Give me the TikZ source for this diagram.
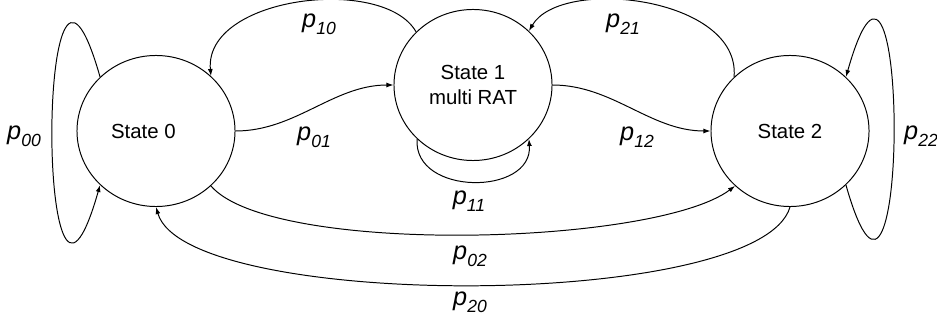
\documentclass[tikz,border=0pt]{standalone}
\usepackage{fontspec}
\setmainfont{Liberation Sans}
\usetikzlibrary{arrows.meta, shapes.geometric}
\newcommand{\plab}[1]{\textit{p}\raisebox{-5pt}{\fontsize{12.5}{13}\selectfont\textit{#1}}}

\begin{document}
\begin{tikzpicture}[x=0.025cm, y=-0.025cm, >={Latex[length=5pt,width=3.5pt]}, line width=0.7pt,
    state/.style={ellipse, draw, minimum width=3.95cm, minimum height=3.775cm, inner sep=0pt,
        align=center, font=\fontsize{14.5}{18}\selectfont},
    prob/.style={inner sep=0pt, font=\fontsize{18}{20}\selectfont}]
    \useasboundingbox (0,0) rectangle (937,320);

    % Zustaende
    \node[state] (s0) at (156,131) {State 0\hspace*{18pt}};
    \node[state] (s1) at (473,85) {State 1\\multi RAT};
    \node[state] (s2) at (790,131) {State 2};

    % Schleifen
    \draw[->] (s0.136) .. controls +(-64,-225) and +(-64,225) .. (s0.224);
    \draw[->] (s2.316) .. controls +(64,225) and +(64,-225) .. (s2.44);
    \draw[->] (s1.224) .. controls +(-4,57) and +(4,57) .. (s1.316);

    % Uebergaenge oben
    \draw[->] (s0.east) .. controls +(60,0) and +(-60,0) .. (s1.west);
    \draw[->] (s1.east) .. controls +(60,0) and +(-60,0) .. (s2.west);
    \draw[->] (s1.137) .. controls +(-32,-57) and +(-7,-80) .. (s0.45);
    \draw[->] (s2.136) .. controls +(7,-80) and +(32,-55) .. (s1.44);

    % Uebergaenge unten
    \draw[->] (s0.315) .. controls +(60,70) and +(-80,60) .. (s2.225);
    \draw[->] (s2.south) .. controls +(-30,104) and +(30,104) .. (s0.south);

    % Wahrscheinlichkeiten
    \node[prob] (p00) at (24,136) {\plab{00}};
    \node[prob] (p22) at (921,136) {\plab{22}};
    \node[prob] (p01) at (314,137) {\plab{01}};
    \node[prob] (p12) at (637,137) {\plab{12}};
    \node[prob] (p11) at (469,201) {\plab{11}};
    \node[prob] (p10) at (319,24) {\plab{10}};
    \node[prob] (p21) at (623,24) {\plab{21}};
    \node[prob] (p02) at (470,256) {\plab{02}};
    \node[prob] (p20) at (470,302) {\plab{20}};
\end{tikzpicture}
\end{document}
